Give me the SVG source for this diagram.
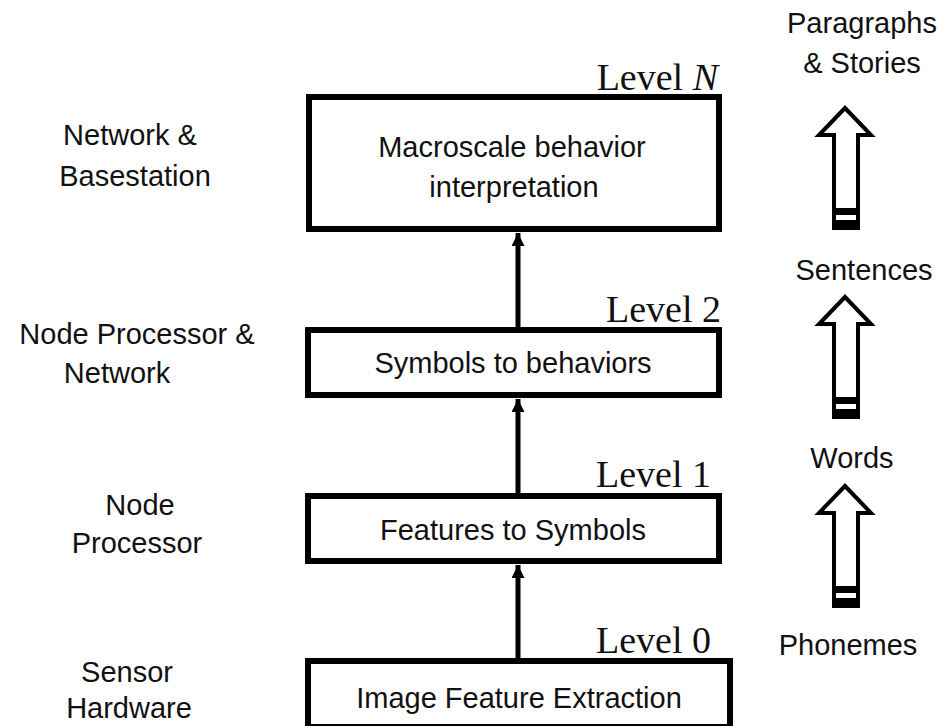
<svg xmlns="http://www.w3.org/2000/svg" width="945" height="726" viewBox="0 0 945 726">
<style>
.box{fill:#fff;stroke:#000;stroke-width:6}
.t{font-family:"Liberation Sans",Arial,sans-serif;font-size:29px;fill:#111;text-anchor:middle}
.side{font-family:"Liberation Sans",Arial,sans-serif;font-size:29px;fill:#111;text-anchor:middle}
.lvl{font-family:"Liberation Serif","Times New Roman",serif;font-size:38px;fill:#111;text-anchor:end}
.conn{stroke:#000;stroke-width:5;fill:none}
.hollow{fill:#fff;stroke:#000;stroke-width:4;stroke-linejoin:miter}
</style>
<defs>
<marker id="ah" viewBox="0 0 10 10" refX="10" refY="5" markerWidth="2.6" markerHeight="2.6" orient="auto" markerUnits="strokeWidth">
<path d="M0,0 L10,5 L0,10 z" fill="#000"/>
</marker>
<g id="hollowArrow">
<polygon class="hollow" points="0,0 26,27 13,27 13,120 -11,120 -11,27 -26,27"/>
<rect x="-12" y="100" width="26" height="7" fill="#000"/>
<rect x="-12" y="112" width="26" height="10" fill="#000"/>
</g>
</defs>

<rect width="945" height="726" fill="#fff"/>

<g id="connectors">
<line class="conn" x1="518" y1="327" x2="518" y2="233" marker-end="url(#ah)"/>
<line class="conn" x1="518" y1="493" x2="518" y2="399" marker-end="url(#ah)"/>
<line class="conn" x1="518" y1="658" x2="518" y2="565" marker-end="url(#ah)"/>
</g>

<g id="levelN">
<rect class="box" x="309" y="97" width="410" height="132"/>
<text class="t" x="512" y="157">Macroscale behavior</text>
<text class="t" x="514" y="197">interpretation</text>
<text class="lvl" x="718" y="90">Level <tspan font-style="italic">N</tspan></text>
</g>

<g id="level2">
<rect class="box" x="308" y="330" width="411" height="65"/>
<text class="t" x="513" y="373">Symbols to behaviors</text>
<text class="lvl" x="721" y="322">Level 2</text>
</g>

<g id="level1">
<rect class="box" x="308" y="496" width="411" height="65"/>
<text class="t" x="513" y="540">Features to Symbols</text>
<text class="lvl" x="711" y="487">Level 1</text>
</g>

<g id="level0">
<rect class="box" x="308" y="661" width="422" height="66"/>
<text class="t" x="519" y="708">Image Feature Extraction</text>
<text class="lvl" x="711" y="653">Level 0</text>
</g>

<g id="leftLabels">
<text class="side" x="130" y="145">Network &amp;</text>
<text class="side" x="135" y="186">Basestation</text>
<text class="side" x="137" y="344">Node Processor &amp;</text>
<text class="side" x="117" y="383">Network</text>
<text class="side" x="140" y="515">Node</text>
<text class="side" x="137" y="553">Processor</text>
<text class="side" x="127" y="682">Sensor</text>
<text class="side" x="129" y="718">Hardware</text>
</g>

<g id="rightLabels">
<text class="side" x="862" y="33">Paragraphs</text>
<text class="side" x="862" y="73">&amp; Stories</text>
<text class="side" x="864" y="280">Sentences</text>
<text class="side" x="852" y="468">Words</text>
<text class="side" x="848" y="655">Phonemes</text>
</g>

<g id="arrowStories"><use href="#hollowArrow" x="845" y="108"/></g>
<g id="arrowSentences"><use href="#hollowArrow" x="845" y="297"/></g>
<g id="arrowWords"><use href="#hollowArrow" x="845" y="486"/></g>
</svg>
